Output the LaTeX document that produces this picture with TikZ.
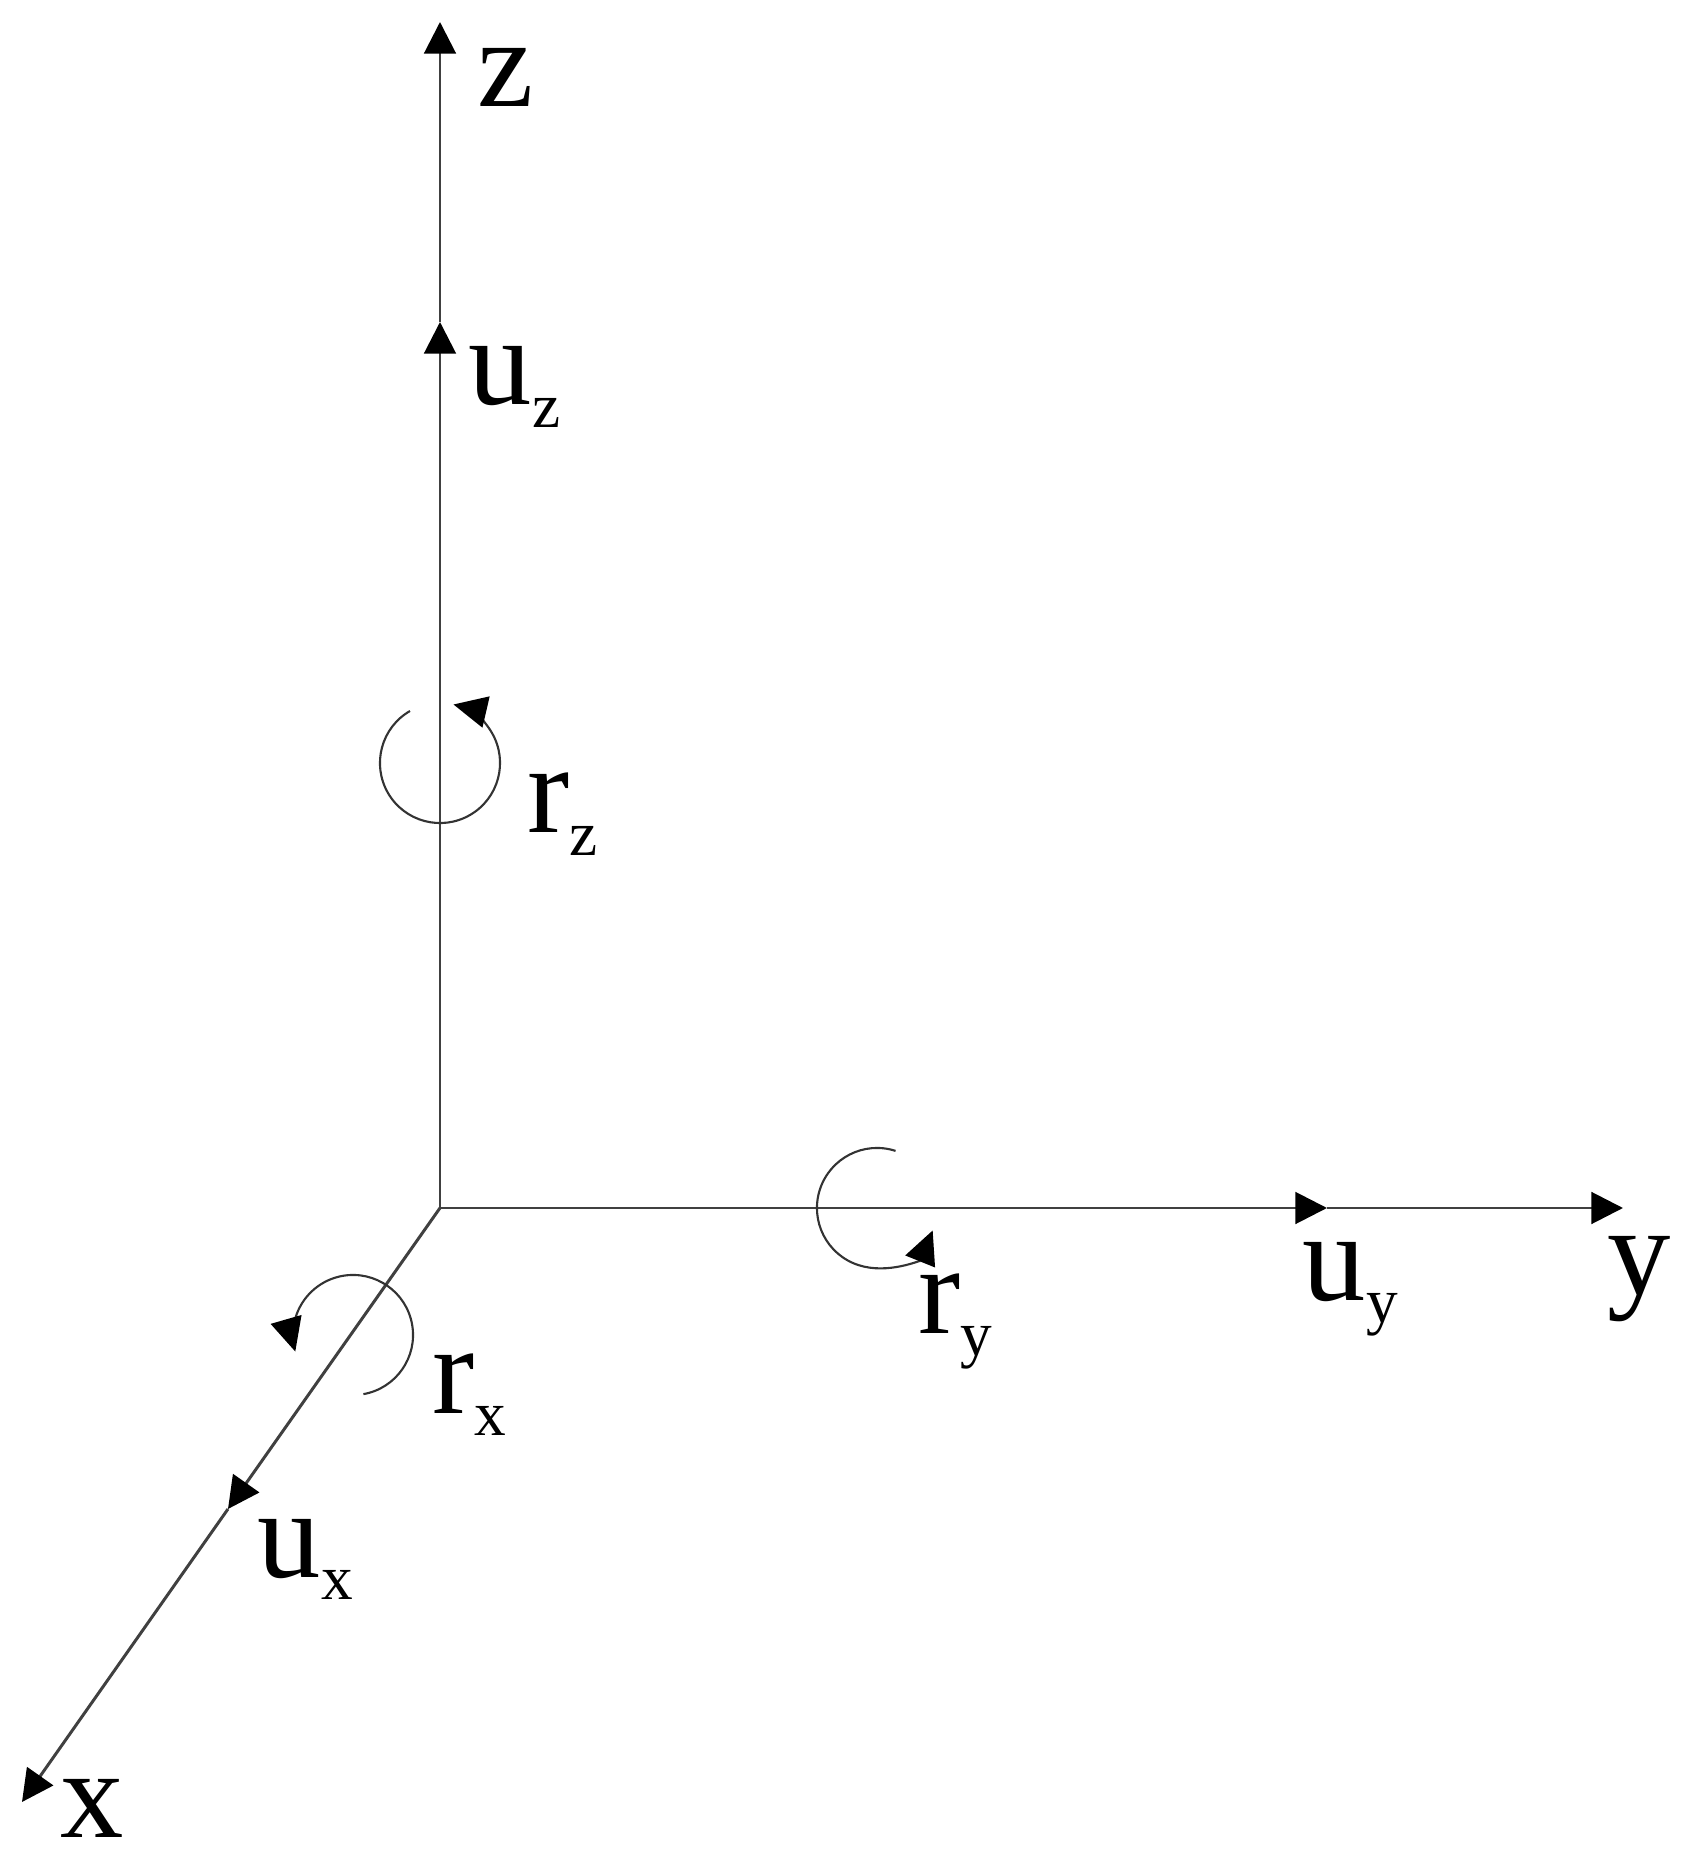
\documentclass[tikz,border=0pt]{standalone}
\usepackage{fontspec}
\setmainfont{Liberation Serif}
\usetikzlibrary{arrows.meta, positioning}
\newcommand{\axsub}[1]{\raisebox{-6.5pt}{\fontsize{18}{18}\selectfont #1}}

\begin{document}
\begin{tikzpicture}[x=0.01cm, y=0.01cm,
  axisline/.style={draw=black!75, line width=0.85pt, -{Triangle[length=9pt, width=9pt, color=black]}},
  rotline/.style={draw=black!80, line width=0.6pt, -{Triangle[length=9.5pt, width=9pt, color=black]}},
  lbl/.style={anchor=base west, inner sep=0pt, font=\fontsize{36}{40}\selectfont}]
  \useasboundingbox (-440,-658) rectangle (1244,1208);

  % axis points
  \coordinate (O) at (0,0);
  \coordinate (zend) at (0,1186);
  \coordinate (uztip) at (0,886);
  \coordinate (yend) at (1183,0);
  \coordinate (uytip) at (887,0);
  \coordinate (xend) at (-418,-594);
  \coordinate (uxtip) at (-212,-301);

  % axes with unit vectors
  \draw[axisline] (O) -- (uztip);
  \draw[axisline] (uztip) -- (zend);
  \draw[axisline] (O) -- (uytip);
  \draw[axisline] (uytip) -- (yend);
  \draw[axisline] (O) -- (uxtip);
  \draw[axisline] (uxtip) -- (xend);

  % rotations
  \coordinate (rzc) at (0,445);
  \coordinate (ryc) at (437,0);
  \coordinate (rxc) at (-87,-127);
  \draw[rotline] ([shift={(120:0.6cm)}]rzc) arc[start angle=120, end angle=437, radius=0.6cm];
  \draw[rotline] ([shift={(72:0.6cm)}]ryc) arc[start angle=72, end angle=338, radius=0.6cm];
  \draw[rotline] ([shift={(-80:0.6cm)}]rxc) arc[start angle=-80, end angle=196, radius=0.6cm];

  % labels
  \node[lbl] (zlbl) at (37,1101) {z};
  \node[lbl] (uzlbl) at (28,803) {u\axsub{z}};
  \node[lbl] (rzlbl) at (87,375) {r\axsub{z}};
  \node[lbl] (rylbl) at (478,-125) {r\axsub{y}};
  \node[lbl] (uylbl) at (862,-92) {u\axsub{y}};
  \node[lbl] (ylbl) at (1167,-86) {y};
  \node[lbl] (rxlbl) at (-8,-205) {r\axsub{x}};
  \node[lbl] (uxlbl) at (-183,-369) {u\axsub{x}};
  \node[lbl] (xlbl) at (-380,-629) {x};
\end{tikzpicture}
\end{document}
